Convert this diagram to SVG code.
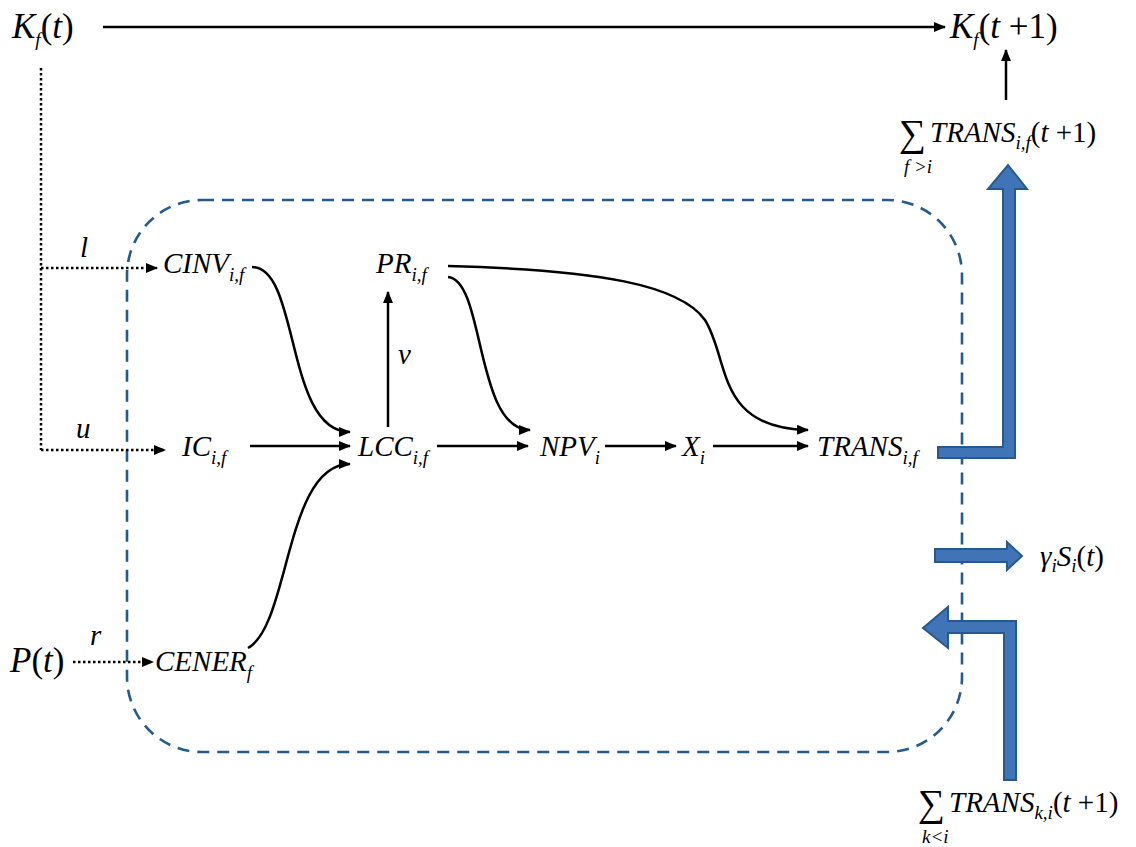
<svg xmlns="http://www.w3.org/2000/svg" width="1136" height="847" viewBox="0 0 1136 847">
<style>
text{font-family:'Liberation Serif','Times New Roman',serif}
.t{font-style:italic;font-size:29px;fill:#000}
.b{font-size:35px}
.u{font-style:normal}
.s{font-size:19px}
.sig{font-size:38px;font-style:normal}
.c{fill:none;stroke:#000;stroke-width:2.5}
.d{fill:none;stroke:#000;stroke-width:2.5;stroke-dasharray:2.5 2.5}
.box{fill:none;stroke:#245B8F;stroke-width:2.6;stroke-dasharray:12 8}
.blue{fill:#4174B6;stroke:#275A8C;stroke-width:2}
</style>
<defs>
<marker id="ah" viewBox="0 0 12 10" refX="11" refY="5" markerWidth="12" markerHeight="10" markerUnits="userSpaceOnUse" orient="auto">
<path d="M0,0 L12,5 L0,10 Z" fill="#000"/>
</marker>
</defs>
<rect class="box" x="127" y="200" width="835" height="552" rx="75" ry="75"/>
<g id="connectors">
<line class="c" x1="103" y1="27" x2="945" y2="27" marker-end="url(#ah)"/>
<line class="c" x1="1006" y1="100" x2="1006" y2="50" marker-end="url(#ah)"/>
<polyline class="d" points="41,68 41,450"/>
<line class="d" x1="41" y1="268" x2="157" y2="268" marker-end="url(#ah)"/>
<line class="d" x1="41" y1="450" x2="165" y2="450" marker-end="url(#ah)"/>
<line class="d" x1="73" y1="662" x2="153" y2="662" marker-end="url(#ah)"/>
<path class="c" d="M252,267 C300,267 285,432 350,432" marker-end="url(#ah)"/>
<line class="c" x1="250" y1="446" x2="350" y2="446" marker-end="url(#ah)"/>
<path class="c" d="M248,648 C290,625 285,464 350,464" marker-end="url(#ah)"/>
<line class="c" x1="388" y1="427" x2="388" y2="292" marker-end="url(#ah)"/>
<line class="c" x1="437" y1="446" x2="528" y2="446" marker-end="url(#ah)"/>
<line class="c" x1="605" y1="446" x2="676" y2="446" marker-end="url(#ah)"/>
<line class="c" x1="713" y1="446" x2="808" y2="446" marker-end="url(#ah)"/>
<path class="c" d="M448,277 C485,280 475,430 530,430" marker-end="url(#ah)"/>
<path class="c" d="M448,266 C600,270 680,285 705,320 C730,360 715,428 808,430" marker-end="url(#ah)"/>
<polygon class="blue" points="938,447 1003,447 1003,189 988,189 1008,165 1027,189 1015,189 1015,458 938,458"/>
<polygon class="blue" points="935,549 1007,549 1007,542 1022,556 1007,570 1007,562 935,562"/>
<polygon class="blue" points="1016,780 1004,780 1004,633 948,633 948,648 923,628 948,607 948,621 1016,621"/>
</g>
<g id="Kt"><text class="t b" x="12" y="38">K<tspan class="s" dy="8">f</tspan><tspan class="u" dy="-8">(</tspan>t<tspan class="u">)</tspan></text></g>
<g id="Kt1"><text class="t b" x="950" y="38">K<tspan class="s" dy="8">f</tspan><tspan class="u" dy="-8">(</tspan>t<tspan class="u"> +1)</tspan></text></g>
<g id="sumTop"><text class="t sig" x="899" y="146">∑</text><text class="t" x="930" y="142">TRANS<tspan class="s" dy="7">i,f</tspan><tspan class="u" dy="-7">(</tspan>t<tspan class="u"> +1)</tspan></text><text class="t s" x="904" y="173">f &gt;i</text></g>
<g id="sumBot"><text class="t sig" x="918" y="816">∑</text><text class="t" x="949" y="812">TRANS<tspan class="s" dy="7">k,i</tspan><tspan class="u" dy="-7">(</tspan>t<tspan class="u"> +1)</tspan></text><text class="t s" x="922" y="843">k&lt;i</text></g>
<g id="gamma"><text class="t" x="1040" y="566">γ<tspan class="s" dy="6">i</tspan><tspan dy="-6">S</tspan><tspan class="s" dy="6">i</tspan><tspan class="u" dy="-6">(</tspan>t<tspan class="u">)</tspan></text></g>
<g id="Pt"><text class="t b" x="10" y="672">P<tspan class="u">(</tspan>t<tspan class="u">)</tspan></text></g>
<g id="labels">
<text class="t" x="80" y="257">l</text>
<text class="t" x="76" y="438">u</text>
<text class="t" x="90" y="645">r</text>
<text class="t" x="398" y="364">ν</text>
</g>
<g id="CINV"><text class="t" x="163" y="273">CINV<tspan class="s" dy="8">i,f</tspan></text></g>
<g id="PR"><text class="t" x="376" y="273">PR<tspan class="s" dy="8">i,f</tspan></text></g>
<g id="IC"><text class="t" x="182" y="456">IC<tspan class="s" dy="8">i,f</tspan></text></g>
<g id="LCC"><text class="t" x="358" y="456">LCC<tspan class="s" dy="8">i,f</tspan></text></g>
<g id="NPV"><text class="t" x="540" y="456">NPV<tspan class="s" dy="8">i</tspan></text></g>
<g id="X"><text class="t" x="682" y="456">X<tspan class="s" dy="8">i</tspan></text></g>
<g id="TRANS"><text class="t" x="817" y="456">TRANS<tspan class="s" dy="8">i,f</tspan></text></g>
<g id="CENER"><text class="t" x="155" y="671">CENER<tspan class="s" dy="8">f</tspan></text></g>
</svg>
